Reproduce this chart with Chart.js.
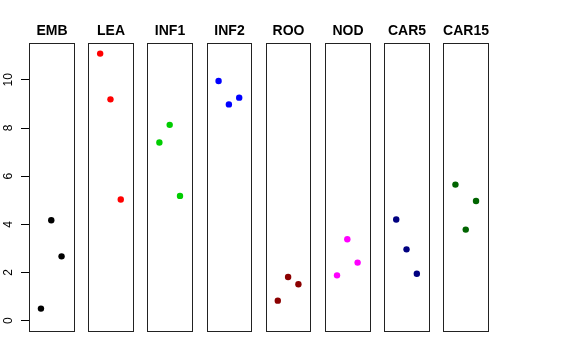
<!DOCTYPE html>
<html>
<head>
<meta charset="utf-8">
<script src="https://cdn.jsdelivr.net/npm/chart.js@4/dist/chart.umd.min.js"></script>
<style>
html,body{margin:0;padding:0;background:#fff;}
#wrap{width:576px;height:360px;position:relative;}
</style>
</head>
<body>
<div id="wrap"><canvas id="c" width="576" height="360"></canvas></div>
<script>
// Data
const categories = ['EMB','LEA','INF1','INF2','ROO','NOD','CAR5','CAR15'];
const pointSlots = [-1, 0, 1];
const EMB   = [0.50, 4.17, 2.67];
const LEA   = [11.09, 9.19, 5.03];
const INF1  = [7.40, 8.13, 5.18];
const INF2  = [9.95, 8.98, 9.26];
const ROO   = [0.83, 1.81, 1.51];
const NOD   = [1.88, 3.38, 2.41];
const CAR5  = [4.20, 2.96, 1.95];
const CAR15 = [5.65, 3.78, 4.97];
const seriesValues = [EMB, LEA, INF1, INF2, ROO, NOD, CAR5, CAR15];
const seriesColors = ['#000000','#FF0000','#00CD00','#0000FF','#8B0000','#FF00FF','#000080','#006400'];
const yTickLabels = [0, 2, 4, 6, 8, 10];

const SLOT_W = 0.174;   // horizontal spread of points within a panel
const HALF = 0.376;     // panel half-width in x units

const datasets = categories.map((cat, i) => ({
  label: cat,
  data: seriesValues[i].map((v, k) => ({x: i + pointSlots[k] * SLOT_W, y: v})),
  backgroundColor: seriesColors[i],
  borderColor: seriesColors[i],
  borderWidth: 0,
  pointRadius: 3.2,
  pointHoverRadius: 3.2
}));

const panelPlugin = {
  id: 'panels',
  afterDatasetsDraw(chart) {
    const ctx = chart.ctx;
    const xs = chart.scales.x, ys = chart.scales.y;
    const top = Math.round(chart.chartArea.top) + 0.5;
    const bottom = Math.round(chart.chartArea.bottom) + 0.5;
    ctx.save();
    ctx.strokeStyle = '#222';
    ctx.lineWidth = 1;
    categories.forEach((cat, i) => {
      const l = Math.round(xs.getPixelForValue(i - HALF)) + 0.5;
      const r = Math.round(xs.getPixelForValue(i + HALF)) + 0.5;
      ctx.strokeRect(l, top, r - l, bottom - top);
      ctx.fillStyle = '#000';
      ctx.font = 'bold 14px "Liberation Sans", Arial, sans-serif';
      ctx.textAlign = 'center';
      ctx.textBaseline = 'alphabetic';
      ctx.fillText(cat, (l + r) / 2, 34.5);
    });
    // rotated y tick labels
    ctx.font = '12px "Liberation Sans", Arial, sans-serif';
    ctx.fillStyle = '#000';
    ctx.textAlign = 'center';
    ctx.textBaseline = 'middle';
    yTickLabels.forEach(t => {
      const py = ys.getPixelForValue(t);
      ctx.save();
      ctx.translate(9, py);
      ctx.rotate(-Math.PI / 2);
      ctx.fillText(String(t), 0, 0);
      ctx.restore();
    });
    ctx.restore();
  }
};

new Chart(document.getElementById('c'), {
  type: 'scatter',
  data: { datasets },
  options: {
    responsive: false,
    animation: false,
    devicePixelRatio: 1,
    layout: { padding: { top: 43, bottom: 29, left: 0, right: 88 } },
    plugins: { legend: { display: false }, tooltip: { enabled: false }, title: { display: false } },
    scales: {
      x: { type: 'linear', min: -HALF, max: categories.length - 1 + HALF, display: false },
      y: {
        type: 'linear', min: -0.43, max: 11.53,
        afterFit(s) { s.width = 29; },
        afterBuildTicks(s) { s.ticks = yTickLabels.map(v => ({value: v})); },
        ticks: { display: false },
        grid: { drawOnChartArea: false, drawTicks: true, tickLength: 8, color: '#000', lineWidth: 1 },
        border: { display: false }
      }
    }
  },
  plugins: [panelPlugin]
});
</script>
</body>
</html>
